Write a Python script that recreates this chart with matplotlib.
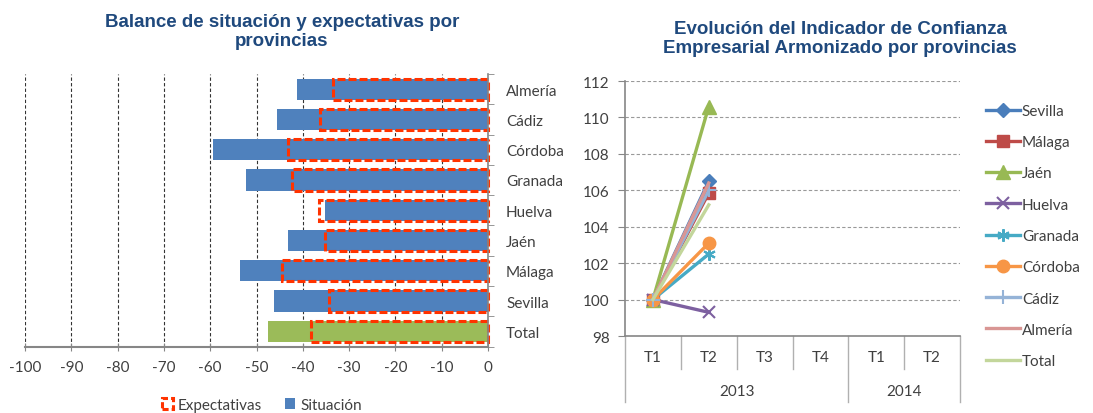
import numpy as np
import matplotlib
matplotlib.use("Agg")
import matplotlib.pyplot as plt
from matplotlib.patches import Patch

plt.rcParams['font.family'] = ['Lato', 'DejaVu Sans']
plt.rcParams['axes.unicode_minus'] = False

# ---- data: left chart (balance) ----
provincias = ["Almería", "Cádiz", "Córdoba", "Granada", "Huelva", "Jaén", "Málaga", "Sevilla", "Total"]
situacion = [-41.2, -45.6, -59.4, -52.2, -35.1, -43.3, -53.5, -46.3, -47.6]
expectativas = [-33.5, -36.2, -43.3, -42.4, -36.4, -35.2, -44.5, -34.4, -38.2]

# ---- data: right chart (indicador de confianza) ----
trimestres = ["T1", "T2", "T3", "T4", "T1", "T2"]
anios = ["2013", "2014"]
series_names = ["Sevilla", "Málaga", "Jaén", "Huelva", "Granada", "Córdoba", "Cádiz", "Almería", "Total"]
t1_2013 = [100, 100, 100, 100, 100, 100, 100, 100, 100]
t2_2013 = [106.5, 105.85, 110.6, 99.3, 102.5, 103.1, 106.0, 106.4, 105.2]

title_col = "#1F497D"
text_col = "#404040"
axis_col = "#868686"

fig = plt.figure(figsize=(10.93, 4.14), dpi=100)

# ================= left chart =================
ax1 = fig.add_axes([25 / 1093, 1 - 347.5 / 414, 463 / 1093, 272.5 / 414])
y = np.arange(len(provincias))
sit_colors = ["#4F81BD"] * (len(provincias) - 1) + ["#9BBB59"]
ax1.barh(y, situacion, height=0.7, color=sit_colors, zorder=2)
ax1.barh(y, expectativas, height=0.7, facecolor="none", edgecolor="#FF3300",
         linewidth=2.2, linestyle=(0, (2.6, 1.0)), zorder=3, clip_on=False)
ax1.set_xlim(-100, 0)
ax1.set_ylim(len(provincias) - 0.5, -0.5)
ax1.set_xticks(np.arange(-100, 1, 10))
ax1.tick_params(axis="x", direction="inout", length=6, color=axis_col,
                labelsize=11, labelcolor=text_col, pad=7)
ax1.grid(axis="x", linestyle=(0, (3, 2)), color="#333333", linewidth=0.8, zorder=0)
ax1.yaxis.tick_right()
ax1.set_yticks(y)
ax1.set_yticklabels(provincias)
ax1.set_yticks(np.arange(len(provincias) + 1) - 0.5, minor=True)
ax1.tick_params(axis="y", which="major", length=0, pad=13, labelsize=11, labelcolor=text_col)
ax1.tick_params(axis="y", which="minor", length=4, color=axis_col, direction="out")
for s in ["top", "left"]:
    ax1.spines[s].set_visible(False)
ax1.spines["bottom"].set_color(axis_col)
ax1.spines["bottom"].set_linewidth(1.5)
ax1.spines["right"].set_color(axis_col)
ax1.spines["right"].set_linewidth(1.2)
ax1.spines["right"].set_zorder(4)

fig.text(282 / 1093, 1 - 32 / 414, "Balance de situación y expectativas por\nprovincias",
         ha="center", va="center", fontsize=13.5, fontweight="bold", color=title_col,
         family="Liberation Sans", linespacing=1.1)

leg_handles = [Patch(facecolor="none", edgecolor="#FF3300", linewidth=2.2, linestyle=(0, (2, 1))),
               Patch(facecolor="#4F81BD", edgecolor="none")]
fig.legend(leg_handles, ["Expectativas", "Situación"], loc="center",
           bbox_to_anchor=(262 / 1093, 1 - 406 / 414), ncol=2, frameon=False,
           fontsize=11, labelcolor=text_col, handlelength=0.7, handleheight=0.7,
           handletextpad=0.3, columnspacing=1.5, borderpad=0)

# ================= right chart =================
ax2 = fig.add_axes([625 / 1093, 1 - 337 / 414, 335 / 1093, 255 / 414])
x = np.arange(1, len(trimestres) + 1)
styles = {
    "Sevilla": dict(color="#4A7EBB", marker="D", ms=7),
    "Málaga": dict(color="#BE4B48", marker="s", ms=8),
    "Jaén": dict(color="#98B954", marker="^", ms=10),
    "Huelva": dict(color="#7D60A0", marker="x", ms=9, mew=1.5),
    "Granada": dict(color="#46AAC5", marker=(6, 2, 0), ms=9, mew=1.5),
    "Córdoba": dict(color="#F79646", marker="o", ms=9),
    "Cádiz": dict(color="#95B3D7", marker="+", ms=10, mew=1.5),
    "Almería": dict(color="#D99694", marker=None),
    "Total": dict(color="#C3D69B", marker=None),
}
for i, name in enumerate(series_names):
    vals = [t1_2013[i], t2_2013[i], np.nan, np.nan, np.nan, np.nan]
    st = styles[name]
    ax2.plot(x, vals, color=st["color"], marker=st["marker"], ms=st.get("ms", 0),
             mew=st.get("mew", 1), linewidth=2.4, label=name, zorder=3 + i)

ax2.set_xlim(0.5, len(trimestres) + 0.5)
ax2.set_ylim(98, 112)
ax2.set_yticks(np.arange(98, 113, 2))
ax2.grid(axis="y", linestyle=(0, (3, 2)), color="#999999", linewidth=0.8, zorder=0)
ax2.tick_params(axis="y", direction="out", length=5, color=axis_col,
                labelsize=11, labelcolor=text_col, pad=6)
ax2.set_xticks([])
for s in ["top", "right"]:
    ax2.spines[s].set_visible(False)
for s in ["left", "bottom"]:
    ax2.spines[s].set_color(axis_col)
    ax2.spines[s].set_linewidth(1.2)

# two-level category axis
trans = ax2.get_xaxis_transform()
for i, lab in enumerate(trimestres):
    ax2.text(x[i], -21 / 255, lab, transform=trans, ha="center", va="center",
             fontsize=11, color=text_col)
bounds = np.arange(len(trimestres) + 1) + 0.5
for b in bounds:
    low = -66 / 255 if b in (0.5, 4.5, 6.5) else -33 / 255
    ax2.plot([b, b], [0, low], transform=trans, color="#B0B0B0", linewidth=1, clip_on=False)
year_centers = [2.5, 5.5]
for xc, yr in zip(year_centers, anios):
    ax2.text(xc, -55 / 255, yr, transform=trans, ha="center", va="center",
             fontsize=11, color=text_col)

fig.text(840 / 1093, 1 - 39 / 414, "Evolución del Indicador de Confianza\nEmpresarial Armonizado por provincias",
         ha="center", va="center", fontsize=13.5, fontweight="bold", color=title_col,
         family="Liberation Sans", linespacing=1.1)

ax2.legend(loc="center left", bbox_to_anchor=(986 / 1093, 1 - 237 / 414),
           bbox_transform=fig.transFigure, frameon=False, fontsize=11,
           labelcolor=text_col, handlelength=2.2, handletextpad=0.15,
           labelspacing=1.13, borderpad=0, borderaxespad=0)

fig.savefig("out.png", dpi=100)
